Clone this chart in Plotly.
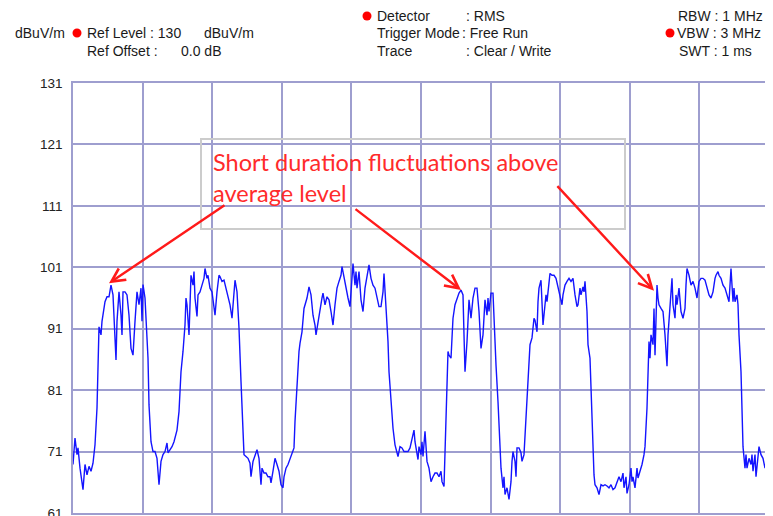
import plotly.graph_objects as go

# spectrum analyser trace (zero span), sweep point index vs level in dBuV/m
sweep_pt = [
    0, 2, 4, 5, 7, 10, 12, 14, 16, 18, 20, 22, 24, 25, 26, 28, 29, 32, 34, 36,
    38, 40, 42, 43, 44, 46, 48, 49, 50, 52, 54, 56, 58, 60, 62, 64, 66, 68, 69, 70,
    72, 73, 75, 76, 78, 80, 82, 84, 86, 88, 90, 92, 94, 95, 97, 99, 101, 104, 106, 108,
    110, 112, 113, 114, 116, 117, 118, 120, 121, 122, 124, 125, 127, 129, 131, 132, 134, 135, 137, 139,
    141, 142, 144, 146, 147, 149, 151, 153, 155, 157, 159, 161, 162, 164, 166, 168, 170, 171, 173, 175,
    177, 178, 180, 182, 184, 186, 188, 189, 191, 193, 195, 197, 198, 200, 202, 204, 206, 208, 210, 211,
    213, 215, 217, 219, 221, 222, 224, 226, 227, 229, 231,
    234, 236, 238, 240, 242, 243, 245, 247, 249, 250, 252, 254, 256, 258, 260, 262, 264, 266, 268, 269,
    271, 273, 275, 277, 279, 280, 282, 283, 284, 286, 288, 290, 292, 294, 296, 298, 300, 302, 304, 306,
    308, 310, 311, 313, 315, 316, 318, 320, 322, 324, 325, 327, 329, 331, 333, 335, 337, 339, 341, 342,
    344, 345, 346, 348, 349, 350, 352, 353, 354, 356, 358, 360, 362, 364, 366, 368, 369, 371, 372, 374,
    375, 376, 378, 379, 380, 382, 384, 386, 388, 390, 391, 392, 394, 395, 396, 398, 399, 400, 402, 404,
    406, 408, 410, 411, 412, 414, 415, 416, 418, 420, 421, 423, 425, 427, 428, 430, 431, 432, 434, 436,
    438, 439, 440, 442, 443, 444, 446, 448, 449, 451, 452, 454, 456, 457, 459, 461,
    462, 464, 465, 466, 468, 469, 470, 472, 473, 474, 476, 477, 479, 481, 483, 485, 487, 489, 490, 492,
    494, 496, 498, 500, 502, 504, 505, 507, 508, 510, 511, 512, 514, 515, 517, 518, 520, 521, 522, 524,
    526, 528, 530, 532, 534, 536, 538, 540, 542, 544, 546, 548, 550, 551, 553, 554, 556, 558, 559, 560,
    562, 564, 565, 567, 569, 571, 572, 574, 575, 576, 577, 578, 580, 581, 582, 583, 584, 585, 586, 588,
    590, 592, 593, 594, 595, 596, 598, 599, 600, 602, 603, 604, 606, 608, 610, 612, 613, 614, 616, 618,
    620, 622, 624, 626, 628, 630, 632, 634, 636, 638, 640, 642, 643, 645, 646, 648, 650, 652, 654, 656,
    657, 658, 660, 661, 662, 664, 665, 666, 668, 669, 670, 672, 673, 674, 676, 678, 679, 680, 682, 683,
    685, 686, 688, 690, 692, 693, 694, 696,
]
level_dbuv = [
    68.9, 73.2, 70.5, 71.6, 68.3, 64.8, 68.9, 67.2, 68.6, 67.8, 69.1, 72.1, 78.1, 86.7, 91.3, 90.0, 92.2, 95.4, 96.2, 96.2,
    98.1, 96.5, 89.5, 85.9, 92.2, 97.0, 93.2, 90.0, 97.0, 97.0, 96.5, 93.2, 87.8, 86.7, 92.2, 97.0, 94.9, 97.6, 92.2, 98.2,
    96.0, 92.2, 86.2, 78.6, 72.6, 71.0, 71.0, 69.9, 65.6, 69.4, 70.5, 71.0, 72.4, 70.8, 71.3, 71.8, 72.6, 74.5, 77.5, 84.0,
    87.3, 91.6, 96.0, 94.9, 90.0, 96.5, 99.7, 98.1, 100.3, 96.0, 93.0, 96.5, 97.0, 98.1, 99.2, 100.8, 99.2, 99.7, 97.6, 97.0,
    94.9, 93.2, 97.0, 99.7, 99.5, 98.7, 98.9, 97.6, 96.0, 94.9, 92.7, 97.6, 98.9, 97.0, 91.1, 82.4, 73.2, 70.5, 70.2, 69.9,
    69.1, 66.9, 69.4, 70.5, 71.3, 69.9, 65.6, 68.3, 67.5, 67.5, 66.9, 66.9, 65.9, 67.8, 69.9, 68.9, 67.8, 65.6, 65.1, 66.9,
    68.3, 68.9, 69.9, 70.8, 71.6, 75.9, 82.4, 87.3, 88.6, 90.5, 94.3,
    96.0, 97.8, 96.5, 93.2, 91.6, 90.0, 92.2, 94.3, 96.0, 96.8, 94.9, 96.2, 95.7, 93.8, 91.6, 94.9, 97.6, 98.7, 99.7, 101.1,
    99.2, 97.6, 96.0, 94.6, 99.7, 101.6, 98.1, 100.3, 97.6, 100.3, 95.7, 93.8, 97.6, 99.2, 101.4, 99.2, 98.1, 97.6, 96.0, 94.6,
    94.6, 97.0, 100.0, 94.9, 88.9, 84.0, 78.6, 74.8, 72.1, 71.0, 70.2, 71.8, 71.6, 71.0, 71.0, 71.0, 71.6, 73.2, 74.5, 72.6,
    70.5, 69.7, 71.8, 70.5, 72.6, 70.2, 74.3, 71.8, 69.4, 68.3, 66.1, 66.9, 67.5, 67.5, 66.9, 67.8, 66.1, 65.3, 71.0, 81.9,
    87.3, 86.7, 86.2, 89.5, 92.7, 94.9, 95.8, 96.8, 97.3, 96.5, 90.0, 84.0, 88.9, 92.2, 95.7, 92.7, 94.3, 96.0, 97.6, 97.6,
    93.8, 87.8, 90.0, 93.2, 95.7, 93.2, 96.0, 93.8, 96.8, 96.8, 92.2, 85.1, 79.1, 72.6, 68.3, 65.1, 66.9, 64.0, 65.1, 63.2,
    66.1, 69.4, 71.0, 69.4, 66.9, 71.6, 71.6, 70.8, 69.4, 70.5, 73.2, 80.2, 85.6, 88.4, 89.5, 92.7,
    92.4, 90.5, 95.4, 97.6, 98.9, 96.0, 91.6, 94.9, 96.5, 95.4, 98.1, 100.0, 99.7, 99.7, 99.2, 97.6, 96.0, 94.9, 96.5, 98.1,
    98.7, 99.2, 98.7, 99.2, 96.5, 94.6, 94.9, 97.6, 96.5, 97.8, 97.0, 98.7, 93.8, 88.4, 86.2, 81.3, 73.2, 67.2, 65.6, 65.1,
    64.0, 65.6, 65.4, 65.6, 65.4, 65.1, 65.6, 64.8, 65.1, 66.1, 66.9, 66.1, 67.5, 65.1, 66.9, 64.2, 65.6, 68.3, 66.1, 66.9,
    65.1, 68.3, 66.7, 67.8, 68.9, 70.5, 71.8, 78.1, 86.7, 88.9, 86.2, 90.0, 88.4, 94.3, 86.7, 95.4, 98.1, 96.0, 94.9, 94.3,
    93.8, 90.0, 86.7, 84.9, 90.0, 92.2, 97.0, 99.2, 94.9, 92.7, 96.5, 94.9, 97.6, 93.8, 92.7, 94.3, 98.1, 100.8, 99.7, 98.1,
    98.7, 97.6, 96.0, 98.7, 99.2, 99.2, 98.9, 97.6, 96.5, 96.0, 97.0, 99.2, 99.7, 100.3, 99.7, 99.2, 98.1, 97.6, 96.5, 95.4,
    98.1, 100.8, 95.4, 97.6, 95.4, 96.5, 94.9, 90.0, 84.0, 78.1, 71.8, 68.3, 70.5, 68.3, 69.9, 68.9, 70.5, 67.8, 70.5, 66.9,
    71.0, 71.8, 70.5, 69.9, 68.3, 69.4, 68.3, 69.9,
]

y_ticks = [61, 71, 81, 91, 101, 111, 121, 131]

header_items = [
    ("dBuV/m", 13, 33), ("Ref Level : 130", 85, 33), ("dBuV/m", 202, 33),
    ("Ref Offset :", 85, 51), ("0.0 dB", 179, 51),
    ("Detector", 375, 16), (": RMS", 464, 16),
    ("Trigger Mode", 375, 33), (": Free Run", 460, 33),
    ("Trace", 375, 51), (": Clear / Write", 464, 51),
    ("RBW : 1 MHz", 676, 16), ("VBW : 3 MHz", 675, 33), ("SWT : 1 ms", 677, 51),
]
red_dots = [(77, 33), (367, 16), (670, 33)]

note_text = "Short duration fluctuations above<br>average level"
# arrow tips (sweep point, level) and tail offsets in pixels
arrow_tips = [(36, 98.4), (388, 97.3), (581, 97.2)]
arrow_tails = [(117, -79), (-107, -82), (-98, -106)]

# the page body adds an 8px margin; positions below are in window pixels
OFF = 8
FW, FH = 773 - OFF, 516 - OFF
L, T, W, H = 73 - OFF, 83 - OFF, 696, 430
def px(x):
    return (x - OFF - L) / W
def py(y):
    return (T + H - (y - OFF)) / H

GRID = '#9e9ecf'
FONT = 'Liberation Sans, Arial, sans-serif'

fig = go.Figure()
fig.add_trace(go.Scatter(
    x=sweep_pt, y=level_dbuv, mode='lines',
    line=dict(color='#1414ff', width=1.4), hoverinfo='skip', showlegend=False,
))

annotations = []
for txt, x, y in header_items:
    annotations.append(dict(
        text=txt, x=px(x), y=py(y), xref='paper', yref='paper',
        xanchor='left', yanchor='middle', showarrow=False,
        font=dict(family=FONT, size=14, color='#1a1a1a'),
    ))

annotations.append(dict(
    text=note_text, x=px(211), y=py(146), xref='paper', yref='paper',
    xanchor='left', yanchor='top', align='left', showarrow=False,
    font=dict(family='Lato, sans-serif', size=23.5, color='#ff2b2b'),
))

for (tx, ty), (ax, ay) in zip(arrow_tips, arrow_tails):
    annotations.append(dict(
        text='', x=tx, y=ty, xref='x', yref='y', ax=ax, ay=ay,
        showarrow=True, arrowhead=5, arrowsize=1.1, arrowwidth=2.4,
        arrowcolor='#ff1a1a', standoff=0,
    ))

shapes = [dict(
    type='rect', xref='paper', yref='paper',
    x0=px(201), x1=px(625), y0=py(229), y1=py(139),
    line=dict(color='#cccccc', width=2), fillcolor='rgba(0,0,0,0)',
)]
for x, y in red_dots:
    shapes.append(dict(
        type='circle', xref='paper', yref='paper',
        xsizemode='pixel', ysizemode='pixel', xanchor=px(x), yanchor=py(y),
        x0=-4.5, x1=4.5, y0=-4.5, y1=4.5,
        fillcolor='#ff0000', line=dict(width=0),
    ))

fig.update_layout(
    width=FW, height=FH,
    margin=dict(l=L, r=FW - L - W, t=T, b=FH - T - H),
    paper_bgcolor='white', plot_bgcolor='white',
    annotations=annotations, shapes=shapes,
    showlegend=False,
)
fig.update_xaxes(
    range=[0, 696], tick0=0, dtick=69.6, showticklabels=False,
    showgrid=True, gridcolor=GRID, gridwidth=1.6, zeroline=False,
    showline=True, mirror=True, linecolor=GRID, linewidth=1.6, automargin=False,
)
fig.update_yaxes(
    range=[61, 131], tickvals=y_ticks, ticklabelstandoff=6, ticklabeloverflow='allow',
    tickfont=dict(family=FONT, size=13.5, color='#222222'),
    showgrid=True, gridcolor=GRID, gridwidth=1.6, zeroline=False,
    showline=True, mirror=True, linecolor=GRID, linewidth=1.6, automargin=False,
)

fig.write_html("out.html")
